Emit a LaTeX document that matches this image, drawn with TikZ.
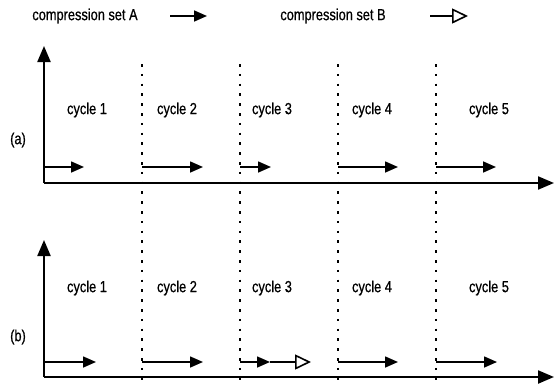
\documentclass[tikz,border=0pt]{standalone}
\usepackage{fontspec}
\setmainfont[FakeStretch=0.8, FakeBold=0.6]{Liberation Sans}
\usetikzlibrary{arrows.meta,positioning}

\begin{document}
\begin{tikzpicture}[x=1pt, y=-1pt, font=\fontsize{16}{19}\selectfont,
    axis/.style={line width=2.2pt, -{Triangle[length=16pt, width=13pt]}},
    divider/.style={line width=1.7pt, dash pattern=on 2.5pt off 7.3pt},
    setA/.style={line width=1.6pt, -{Triangle[length=13pt, width=11pt]}},
    setB/.style={line width=1.7pt, -{Triangle[open, length=16pt, width=15pt, line width=1.6pt]}},
    label/.style={inner sep=1pt}
]
\useasboundingbox (0,0) rectangle (554,386);

% Legend
\node[label] (legA) at (85,16) {compression set A};
\coordinate (legAs) at (170,16);
\coordinate (legAe) at (207,16);
\draw[setA] (legAs) -- (legAe);
\node[label] (legB) at (333,16) {compression set B};
\coordinate (legBs) at (430,16);
\coordinate (legBe) at (468,16);
\draw[setB] (legBs) -- (legBe);

% Cycle boundaries (run through both panels)
\draw[divider] (142,64) -- (142,386);
\draw[divider] (240,64) -- (240,386);
\draw[divider] (338,64) -- (338,386);
\draw[divider] (436,64) -- (436,386);

% (a) axes
\coordinate (oa) at (44,183);
\coordinate (yA) at (44,46);
\coordinate (xA) at (554,183);
\draw[axis] (oa) -- (yA);
\draw[axis] (oa) -- (xA);
\node[label] (labA) at (18,140) {(a)};

% (a) cycle labels
\node[label] (a1) at (87,110) {cycle 1};
\node[label] (a2) at (177,110) {cycle 2};
\node[label] (a3) at (272,110) {cycle 3};
\node[label] (a4) at (372,110) {cycle 4};
\node[label] (a5) at (489,110) {cycle 5};

% (a) compressions
\coordinate (a1s) at (44,167);  \coordinate (a1e) at (84,167);
\coordinate (a2s) at (142,167); \coordinate (a2e) at (203,167);
\coordinate (a3s) at (240,167); \coordinate (a3e) at (271,167);
\coordinate (a4s) at (338,167); \coordinate (a4e) at (398,167);
\coordinate (a5s) at (436,167); \coordinate (a5e) at (496,167);
\draw[setA] (a1s) -- (a1e);
\draw[setA] (a2s) -- (a2e);
\draw[setA] (a3s) -- (a3e);
\draw[setA] (a4s) -- (a4e);
\draw[setA] (a5s) -- (a5e);

% (b) axes
\coordinate (ob) at (44,377);
\coordinate (yB) at (44,240);
\coordinate (xB) at (554,377);
\draw[axis] (ob) -- (yB);
\draw[axis] (ob) -- (xB);
\node[label] (labB) at (18,337) {(b)};

% (b) cycle labels
\node[label] (b1) at (87,288) {cycle 1};
\node[label] (b2) at (177,288) {cycle 2};
\node[label] (b3) at (272,288) {cycle 3};
\node[label] (b4) at (372,288) {cycle 4};
\node[label] (b5) at (489,288) {cycle 5};

% (b) compressions, set B follows set A in cycle 3
\coordinate (b1s) at (44,362);  \coordinate (b1e) at (96,362);
\coordinate (b2s) at (142,362); \coordinate (b2e) at (203,362);
\coordinate (b3s) at (240,362); \coordinate (b3e) at (270,362);
\coordinate (b3f) at (311,362);
\coordinate (b4s) at (338,362); \coordinate (b4e) at (398,362);
\coordinate (b5s) at (436,362); \coordinate (b5e) at (497,362);
\draw[setA] (b1s) -- (b1e);
\draw[setA] (b2s) -- (b2e);
\draw[setB] (b3e) -- (b3f);
\draw[setA] (b3s) -- (b3e);
\draw[setA] (b4s) -- (b4e);
\draw[setA] (b5s) -- (b5e);

\end{tikzpicture}
\end{document}
